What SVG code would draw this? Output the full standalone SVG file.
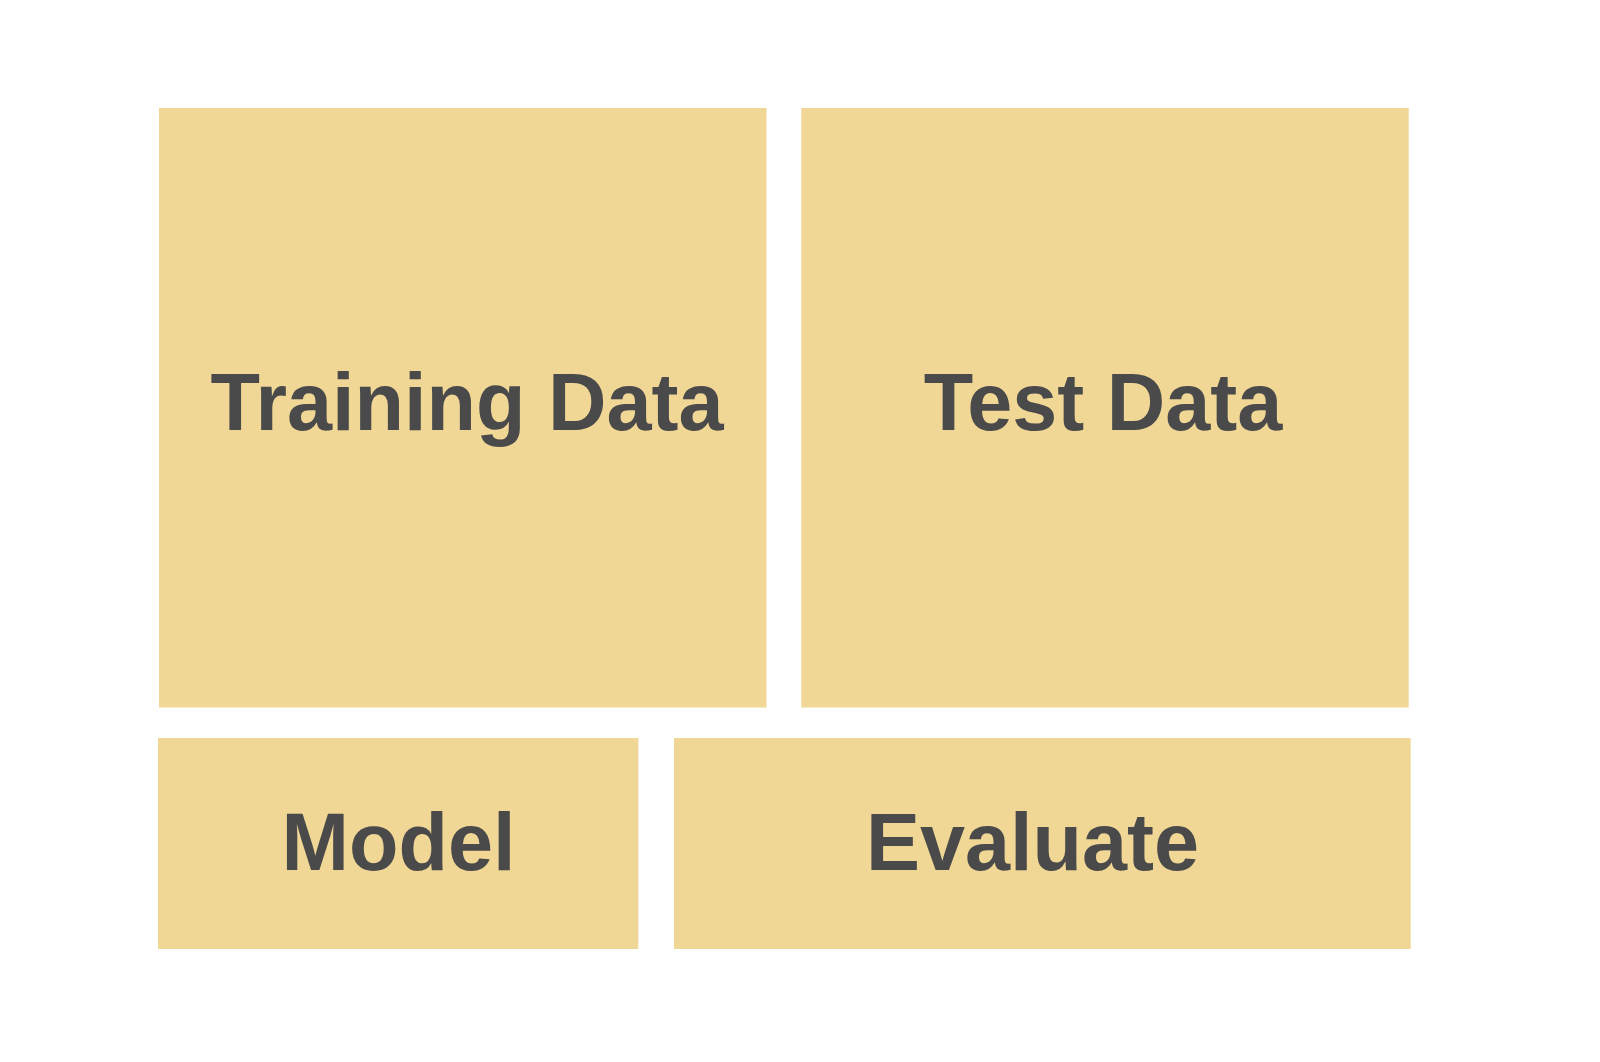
<svg xmlns="http://www.w3.org/2000/svg" width="1600" height="1062" viewBox="0 0 1600 1062">
<style>
.box{fill:#F1D795;}
.lbl{font-family:"Liberation Sans",Arial,Helvetica,sans-serif;font-weight:bold;font-size:81px;fill:#4A4A4A;text-anchor:middle;}
</style>
<rect x="0" y="0" width="1600" height="1062" fill="#FFFFFF"/>
<g id="training-data">
<rect class="box" x="159" y="108" width="607.5" height="599.5"/>
<text class="lbl" x="467" y="430">Training Data</text>
</g>
<g id="test-data">
<rect class="box" x="801.3" y="108" width="607.4" height="599.5"/>
<text class="lbl" x="1103" y="430">Test Data</text>
</g>
<g id="model">
<rect class="box" x="158" y="738" width="480.3" height="211"/>
<text class="lbl" x="398.5" y="870">Model</text>
</g>
<g id="evaluate">
<rect class="box" x="674" y="738" width="736.7" height="211"/>
<text class="lbl" x="1032.5" y="870">Evaluate</text>
</g>
<g id="connectors"></g>
</svg>
